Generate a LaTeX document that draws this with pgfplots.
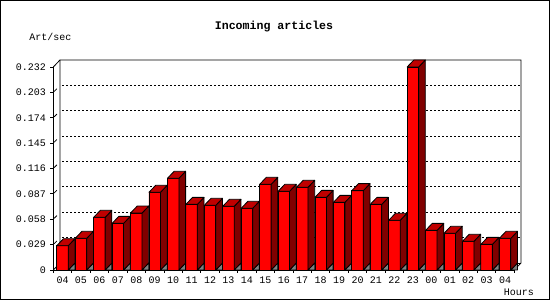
\documentclass[border=0pt]{standalone}
\usepackage{pgfplots}
\pgfplotsset{compat=1.18}
\usepackage{pgfplotstable}
\usepackage{fontspec}
\setmainfont{Liberation Mono}
\definecolor{barfront}{HTML}{FF0000}
\definecolor{bartop}{HTML}{C00000}
\definecolor{barside}{HTML}{800000}
\definecolor{floorgray}{HTML}{808080}
\pgfplotstableread{
idx v
0 0.0278
1 0.0362
2 0.0602
3 0.0533
4 0.0651
5 0.0888
6 0.1048
7 0.0750
8 0.0739
9 0.0728
10 0.0705
11 0.0979
12 0.0899
13 0.0945
14 0.0830
15 0.0773
16 0.0907
17 0.0750
18 0.0568
19 0.2320
20 0.0453
21 0.0419
22 0.0328
23 0.0293
24 0.0362
}\datatable
\begin{document}
\begin{tikzpicture}[x=1pt,y=1pt]
\useasboundingbox (0,0) rectangle (550,300);
\draw[line width=1.2pt] (0.6,0.6) rectangle (549.4,299.4);
\node[font=\fontsize{11.6}{13}\selectfont\bfseries] at (274,273) {Incoming articles};
\node[font=\fontsize{10}{12}\selectfont] at (50.5,263) {Art/sec};
\node[font=\fontsize{10}{12}\selectfont] at (519,8) {Hours};
\begin{axis}[
  at={(53.3pt,30pt)}, anchor=south west,
  x=18.44pt, y=875pt,
  xmin=-0.5, xmax=24.5, ymin=0, ymax=0.232,
  clip=false,
  axis lines*=left,
  axis line style={line width=0.8pt},
  tick align=outside,
  major tick length=3pt, minor tick length=3pt,
  tick style={black, line width=0.8pt},
  ytick={0,0.029,0.058,0.087,0.116,0.145,0.174,0.203,0.232},
  yticklabels={0,0.029,0.058,0.087,0.116,0.145,0.174,0.203,0.232},
  xtick={0,...,24},
  xticklabels={04,05,06,07,08,09,10,11,12,13,14,15,16,17,18,19,20,21,22,23,00,01,02,03,04},
  minor xtick={-0.5,0.5,...,24.5},
  major x tick style={draw=none},
  ticklabel style={font=\fontsize{10}{12}\selectfont},
  yticklabel style={xshift=-1pt},
]
% back wall and grid
\pgfplotsinvokeforeach{0.029,0.058,0.087,0.116,0.145,0.174,0.203}{
  \draw[dash pattern=on 2pt off 2pt, line width=0.8pt]
    ([shift={(9pt,7pt)}]axis cs:-0.5,#1) -- ([shift={(6.7pt,7pt)}]axis cs:24.5,#1);
  \draw[line width=0.8pt]
    ([shift={(0.9pt,0.9pt)}]axis cs:-0.5,#1) -- ([shift={(3.6pt,3.6pt)}]axis cs:-0.5,#1);
}
\draw[line width=0.8pt]
  (axis cs:-0.5,0.232) -- ([shift={(6.7pt,7pt)}]axis cs:-0.5,0.232)
  -- ([shift={(6.7pt,7pt)}]axis cs:24.5,0.232)
  -- ([shift={(6.7pt,7pt)}]axis cs:24.5,0)
  -- (axis cs:24.5,0);
\draw[line width=0.8pt]
  (axis cs:-0.5,0) -- ([shift={(6.7pt,7pt)}]axis cs:-0.5,0)
  -- ([shift={(6.7pt,7pt)}]axis cs:-0.5,0.232);
\draw[line width=0.8pt]
  ([shift={(6.7pt,7pt)}]axis cs:-0.5,0) -- ([shift={(6.7pt,7pt)}]axis cs:24.5,0);
% front faces
\addplot[ybar, bar width=11.5pt, fill=barfront, draw=black, line width=0.8pt]
  table[x=idx, y=v] {\datatable};
% top, side and floor faces
\addplot[scatter, only marks, mark=*, mark size=0pt,
  mark options={draw=none, fill=none},
  visualization depends on={\thisrow{v} \as \rawy},
  scatter/@pre marker code/.code={%
    \pgfmathsetmacro{\hh}{-\rawy*875}%
    \pgfmathsetmacro{\hb}{\hh+7}%
    \filldraw[fill=floorgray, draw=black, line width=0.8pt, line join=round]
      (5.75pt,\hh pt) -- (12.45pt,\hb pt) -- (12.45pt,\hh pt) -- cycle;
    \filldraw[fill=barside, draw=black, line width=0.8pt, line join=round]
      (5.75pt,\hh pt) -- (5.75pt,0pt) -- (12.45pt,7pt) -- (12.45pt,\hb pt) -- cycle;
    \filldraw[fill=bartop, draw=black, line width=0.8pt, line join=round]
      (-5.75pt,0pt) -- (5.75pt,0pt) -- (12.45pt,7pt) -- (0.95pt,7pt) -- cycle;
  },
  scatter/@post marker code/.code={},
] table[x=idx, y=v] {\datatable};
\end{axis}
\end{tikzpicture}
\end{document}
